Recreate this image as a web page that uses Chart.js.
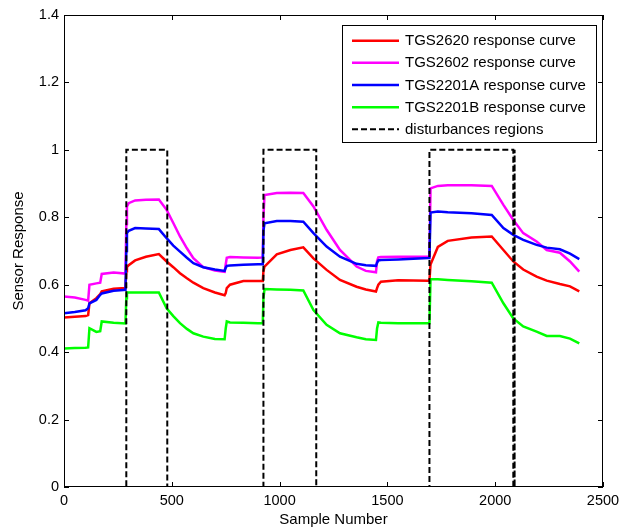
<!DOCTYPE html>
<html>
<head>
<meta charset="utf-8">
<script src="https://cdn.jsdelivr.net/npm/chart.js@4.4.1/dist/chart.umd.min.js"></script>
<style>
html,body{margin:0;padding:0;background:#fff;}
#wrap{width:630px;height:529px;position:relative;}
</style>
</head>
<body>
<div id="wrap"><canvas id="c" width="630" height="529"></canvas></div>
<script>
// Sample positions (shared by the four sensor curves)
const samples = [0,50,100,112,118,150,168,175,230,285,289,292,300,330,380,440,476,507,538,570,600,646,700,745,750,755,770,832,900,922,925,930,987,1050,1110,1157,1218,1280,1357,1400,1447,1452,1458,1470,1550,1690,1695,1700,1734,1780,1890,1984,2038,2084,2130,2192,2239,2300,2347,2390];

const tgs2620 = [0.503,0.505,0.507,0.510,0.545,0.560,0.572,0.580,0.588,0.590,0.640,0.652,0.658,0.672,0.683,0.691,0.669,0.652,0.634,0.619,0.606,0.590,0.577,0.569,0.575,0.590,0.600,0.611,0.611,0.611,0.640,0.654,0.690,0.703,0.711,0.678,0.644,0.614,0.594,0.586,0.580,0.590,0.600,0.609,0.613,0.612,0.612,0.660,0.712,0.730,0.740,0.743,0.703,0.669,0.645,0.624,0.612,0.602,0.595,0.580];

const tgs2602 = [0.565,0.562,0.555,0.553,0.600,0.604,0.606,0.632,0.636,0.633,0.780,0.832,0.842,0.850,0.852,0.853,0.822,0.783,0.743,0.708,0.679,0.652,0.642,0.638,0.660,0.680,0.682,0.681,0.680,0.681,0.800,0.866,0.872,0.873,0.872,0.832,0.763,0.703,0.654,0.641,0.637,0.670,0.681,0.682,0.683,0.683,0.683,0.886,0.893,0.895,0.895,0.893,0.837,0.792,0.753,0.728,0.703,0.695,0.669,0.639];

const tgs2201a = [0.515,0.519,0.524,0.530,0.545,0.555,0.570,0.574,0.582,0.585,0.700,0.753,0.760,0.768,0.767,0.765,0.738,0.716,0.698,0.680,0.664,0.652,0.645,0.641,0.650,0.656,0.657,0.659,0.661,0.661,0.760,0.782,0.789,0.789,0.787,0.753,0.713,0.683,0.662,0.658,0.656,0.665,0.672,0.673,0.675,0.679,0.679,0.814,0.817,0.815,0.812,0.807,0.768,0.748,0.733,0.718,0.710,0.705,0.692,0.676];

const tgs2201b = [0.411,0.412,0.413,0.414,0.471,0.460,0.462,0.491,0.487,0.485,0.560,0.577,0.577,0.577,0.577,0.577,0.530,0.507,0.486,0.469,0.456,0.446,0.439,0.438,0.470,0.491,0.488,0.487,0.486,0.486,0.560,0.587,0.586,0.585,0.583,0.525,0.481,0.456,0.444,0.438,0.436,0.470,0.488,0.487,0.486,0.486,0.486,0.616,0.616,0.614,0.610,0.606,0.545,0.500,0.476,0.461,0.448,0.448,0.440,0.426];

// Disturbance indicator signal
const distSamples = [0,289,289,479,479,925,925,1170,1170,1695,1695,2084,2084,2090,2090,2090,2400];
const distValues  = [0,0,1,1,0,0,1,1,0,0,1,1,0,0,1,0,0];

// Axis ticks
const xTicks = [0,500,1000,1500,2000,2500];
const yTicks = [0,0.2,0.4,0.6,0.8,1,1.2,1.4];

const seriesLabels = ['TGS2620 response curve','TGS2602 response curve','TGS2201A response curve','TGS2201B response curve','disturbances regions'];

function pts(xs, ys){ return xs.map((x,i)=>({x:x, y:ys[i]})); }

const FONT = "'Liberation Sans', Arial, sans-serif";

const frameTicks = {
  id:'frameTicks',
  afterDatasetsDraw(chart){
    const {ctx, chartArea:a, scales} = chart;
    ctx.save();
    ctx.strokeStyle = '#000';
    ctx.lineWidth = 1;
    ctx.strokeRect(a.left+0.5, a.top+0.5, a.right-a.left-1, a.bottom-a.top-1);
    ctx.beginPath();
    const L = 5;
    xTicks.forEach(v=>{
      const px = Math.round(scales.x.getPixelForValue(v))+0.5;
      ctx.moveTo(px, a.bottom); ctx.lineTo(px, a.bottom-L);
      ctx.moveTo(px, a.top); ctx.lineTo(px, a.top+L);
    });
    yTicks.forEach(v=>{
      const py = Math.round(scales.y.getPixelForValue(v))+0.5;
      ctx.moveTo(a.left, py); ctx.lineTo(a.left+L, py);
      ctx.moveTo(a.right, py); ctx.lineTo(a.right-L, py);
    });
    ctx.stroke();

    // Legend box
    const bx = 342, by = 25, bw = 254, bh = 117;
    ctx.fillStyle = '#fff';
    ctx.fillRect(bx, by, bw, bh);
    ctx.strokeRect(bx+0.5, by+0.5, bw, bh);
    ctx.font = '15px ' + FONT;
    ctx.textBaseline = 'middle';
    ctx.textAlign = 'left';
    chart.data.datasets.forEach((ds, i)=>{
      const y = 40.7 + i*22.15;
      ctx.beginPath();
      ctx.strokeStyle = ds.borderColor;
      ctx.lineWidth = ds.borderDash ? 2 : 2.5;
      ctx.setLineDash(ds.borderDash || []);
      ctx.moveTo(352, y); ctx.lineTo(399, y);
      ctx.stroke();
      ctx.setLineDash([]);
      ctx.fillStyle = '#000';
      ctx.fillText(ds.label, 405, y+0.5);
    });
    ctx.restore();
  }
};

new Chart(document.getElementById('c'), {
  type:'line',
  data:{
    datasets:[
      {label:seriesLabels[0], data:pts(samples,tgs2620), borderColor:'#ff0000', borderWidth:2.5, order:4},
      {label:seriesLabels[1], data:pts(samples,tgs2602), borderColor:'#ff00ff', borderWidth:2.5, order:3},
      {label:seriesLabels[2], data:pts(samples,tgs2201a), borderColor:'#0000ff', borderWidth:2.5, order:2},
      {label:seriesLabels[3], data:pts(samples,tgs2201b), borderColor:'#00ff00', borderWidth:2.5, order:1},
      {label:seriesLabels[4], data:pts(distSamples,distValues), borderColor:'#000000', borderWidth:2, borderDash:[6,3], order:0}
    ]
  },
  options:{
    responsive:false,
    animation:false,
    elements:{point:{radius:0}, line:{tension:0, fill:false}},
    layout:{padding:{top:15, right:27, left:0, bottom:0}},
    plugins:{legend:{display:false}, tooltip:{enabled:false}},
    scales:{
      x:{
        type:'linear', min:0, max:2500,
        afterFit(s){ s.height = 42; },
        afterBuildTicks(s){ s.ticks = xTicks.map(v=>({value:v})); },
        grid:{display:false, drawTicks:false, tickLength:0},
        border:{display:false},
        ticks:{color:'#000', font:{family:FONT, size:14.5}, padding:5, maxRotation:0, autoSkip:false, callback:(v)=>String(v)},
        title:{display:true, text:'Sample Number', color:'#000', font:{family:FONT, size:15}, padding:{top:0,bottom:0}}
      },
      y:{
        type:'linear', min:0, max:1.4,
        afterFit(s){ s.width = 64; },
        afterBuildTicks(s){ s.ticks = yTicks.map(v=>({value:v})); },
        grid:{display:false, drawTicks:false, tickLength:0},
        border:{display:false},
        ticks:{color:'#000', font:{family:FONT, size:14.5}, padding:5, autoSkip:false, callback:(v)=>String(Number(v.toFixed(1)))},
        title:{display:true, text:'Sensor Response', color:'#000', font:{family:FONT, size:15}, padding:{top:10,bottom:0}}
      }
    }
  },
  plugins:[frameTicks]
});
</script>
</body>
</html>
